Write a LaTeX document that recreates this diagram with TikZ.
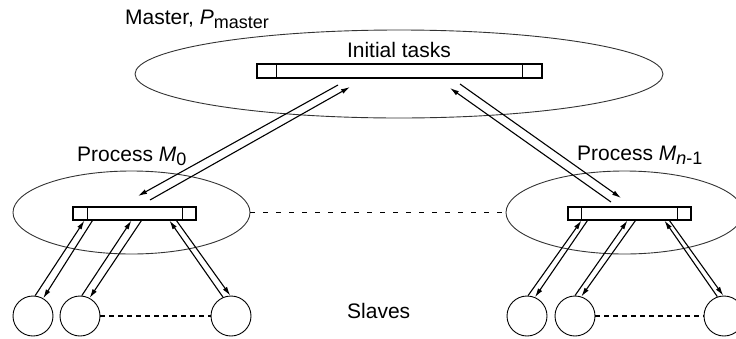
\documentclass[tikz,border=0pt]{standalone}
\usepackage{fontspec}
\setmainfont{Liberation Sans}
\usetikzlibrary{positioning,
        shapes.geometric,
        arrows.meta}
\newcommand{\lowsub}[1]{\raisebox{-4pt}{\fontsize{18}{20}\selectfont #1}}

\begin{document}
\begin{tikzpicture}[x=1pt,y=-1pt,
        bubble/.style={ellipse,draw=black!80,line width=0.9pt,inner sep=0pt},
        queue/.style={rectangle,draw,line width=1.1pt,inner sep=0pt,minimum height=14pt},
        slave/.style={circle,draw,line width=0.9pt,inner sep=0pt,minimum size=40pt},
        flow/.style={-{Latex[length=9pt,width=5pt]},line width=1.1pt},
        gap/.style={line width=1.3pt,dash pattern=on 5pt off 8pt},
        dots/.style={line width=2.6pt,dash pattern=on 4.5pt off 4.5pt},
        txt/.style={font=\fontsize{21}{25}\selectfont,inner sep=0pt}]
        \useasboundingbox (0,0) rectangle (736,338);

        \node [bubble,minimum width=528pt,minimum height=88pt] (master) at (399,74) {};
        \node [bubble,minimum width=237pt,minimum height=83pt] (proc0) at (131.5,212.5) {};
        \node [bubble,minimum width=237pt,minimum height=83pt] (procn) at (624.5,212.5) {};

        \node [queue,minimum width=285pt] (tasks) at (399.5,71) {};
        \node [queue,minimum width=123pt,minimum height=13pt] (bar0) at (134.5,213.5) {};
        \node [queue,minimum width=123pt,minimum height=13pt] (barn) at (629.5,213.5) {};
        \draw ([xshift=20pt]tasks.north west) -- ([xshift=20pt]tasks.south west);
        \draw ([xshift=-20pt]tasks.north east) -- ([xshift=-20pt]tasks.south east);
        \draw ([xshift=15pt]bar0.north west) -- ([xshift=15pt]bar0.south west);
        \draw ([xshift=-14pt]bar0.north east) -- ([xshift=-14pt]bar0.south east);
        \draw ([xshift=14pt]barn.north west) -- ([xshift=14pt]barn.south west);
        \draw ([xshift=-14pt]barn.north east) -- ([xshift=-14pt]barn.south east);

        \node [slave] (s1) at (33,316) {};
        \node [slave] (s2) at (80,316) {};
        \node [slave] (s3) at (231,316) {};
        \node [slave] (t1) at (527,316) {};
        \node [slave] (t2) at (575,316) {};
        \node [slave] (t3) at (724,316) {};

        \node [txt,anchor=base west] (mastertxt) at (125,24) {Master, \textit{P}\lowsub{master}};
        \node [txt,anchor=base] (taskstxt) at (399,57) {Initial tasks};
        \node [txt,anchor=base west] (proc0txt) at (77,161) {Process \textit{M}\lowsub{0}};
        \node [txt,anchor=base west] (procntxt) at (577,160) {Process \textit{M}\lowsub{\textit{n}-1}};
        \node [txt,anchor=base west] (slavetxt) at (347,318) {Slaves};

        \coordinate (a0) at (338,85);
        \coordinate (b0) at (138,196);
        \coordinate (c0) at (150,200);
        \coordinate (d0) at (350,87);
        \coordinate (an) at (611,202);
        \coordinate (bn) at (450,88);
        \coordinate (cn) at (460,84);
        \coordinate (dn) at (621,198);

        \draw [flow] (a0) -- (b0);
        \draw [flow] (c0) -- (d0);
        \draw [flow] (an) -- (bn);
        \draw [flow] (cn) -- (dn);

        \draw [flow] (s1.84) -- ([xshift=12pt]bar0.south west);
        \draw [flow] ([xshift=20pt]bar0.south west) -- (s1.60);
        \draw [flow] (s2.85) -- ([xshift=59pt]bar0.south west);
        \draw [flow] ([xshift=69pt]bar0.south west) -- (s2.62);
        \draw [flow] (s3.113) -- ([xshift=97pt]bar0.south west);
        \draw [flow] ([xshift=104pt]bar0.south west) -- (s3.92);

        \draw [flow] (t1.87) -- ([xshift=14pt]barn.south west);
        \draw [flow] ([xshift=20pt]barn.south west) -- (t1.67);
        \draw [flow] (t2.90) -- ([xshift=60pt]barn.south west);
        \draw [flow] ([xshift=68pt]barn.south west) -- (t2.72);
        \draw [flow] (t3.109) -- ([xshift=97pt]barn.south west);
        \draw [flow] ([xshift=102pt]barn.south west) -- (t3.92);

        \draw [gap] (proc0) -- (procn);
        \draw [dots] (s2) -- (s3);
        \draw [dots] (t2) -- (t3);
    \end{tikzpicture}
\end{document}
